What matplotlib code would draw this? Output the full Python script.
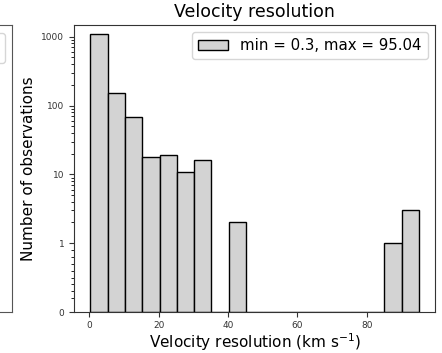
import numpy as np
import matplotlib
matplotlib.use('Agg')
import matplotlib.pyplot as plt
from matplotlib.ticker import ScalarFormatter, FixedLocator

# histogram of velocity resolution (km/s): 19 equal bins between min and max
vmin, vmax = 0.3, 95.04
bin_edges = np.linspace(vmin, vmax, 20)
counts = [1090, 151, 69, 18, 19, 11, 16, 0, 2, 0, 0, 0, 0, 0, 0, 0, 0, 1, 3]
minor_ticks = [0.2, 0.3, 0.4, 0.5, 0.6, 0.7, 0.8, 0.9] + \
    [m * 10 ** k for k in range(0, 4) for m in range(2, 10)]

plt.rcParams['font.family'] = 'DejaVu Sans'

fig = plt.figure(figsize=(4.42, 3.53), dpi=100)

# neighbouring panel, mostly cut off at the left edge (only its frame shows)
ax0 = fig.add_axes([-0.6, 0.1161, 0.6278, 0.8131])
bars0 = ax0.hist(bin_edges[:-1], bins=bin_edges, weights=counts,
                 color='lightgrey', edgecolor='black')[2]
ax0.set_xlim(200, 300)
ax0.legend([bars0[0]], [''], loc='upper right', fontsize=11,
           handlelength=6, borderpad=0.5)
for s in ax0.spines.values():
    s.set_color('#555555')
ax0.set_xticks([])
ax0.set_yticks([])

ax = fig.add_axes([0.1674, 0.1161, 0.8174, 0.8131])
ax.hist(bin_edges[:-1], bins=bin_edges, weights=counts, color='lightgrey',
        edgecolor='black', linewidth=1.0,
        label='min = {}, max = {}'.format(vmin, vmax))
ax.set_yscale('symlog', linthresh=1, linscale=0.9)
ax.set_ylim(0, 1480)
ax.yaxis.set_major_formatter(ScalarFormatter())
ax.yaxis.set_minor_locator(FixedLocator(minor_ticks))

ax.set_title('Velocity resolution', fontsize=12.5)
ax.set_xlabel(r'Velocity resolution (km s$^{-1}$)', fontsize=11, labelpad=1)
ax.set_ylabel('Number of observations', fontsize=11)
ax.tick_params(labelsize=6.5, colors='#333333')
ax.tick_params(axis='x', pad=3)
ax.tick_params(which='minor', length=2)
ax.legend(loc='upper right', fontsize=10.8)
for s in ax.spines.values():
    s.set_color('#333333')

plt.savefig('out.png', dpi=100)
